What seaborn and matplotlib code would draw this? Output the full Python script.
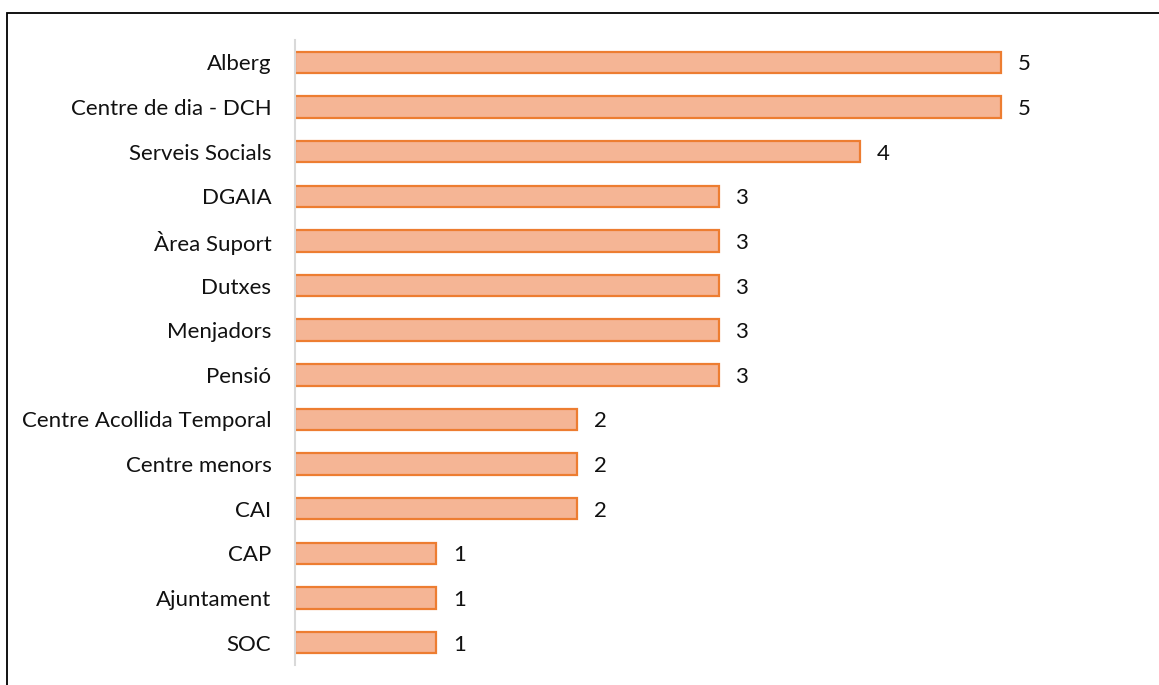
import matplotlib
matplotlib.use("Agg")
import matplotlib.pyplot as plt
import seaborn as sns
import pandas as pd
from matplotlib.patches import Rectangle

categories = ['Alberg', 'Centre de dia - DCH', 'Serveis Socials', 'DGAIA', 'Àrea Suport',
              'Dutxes', 'Menjadors', 'Pensió', 'Centre Acollida Temporal', 'Centre menors',
              'CAI', 'CAP', 'Ajuntament', 'SOC']
counts = [5, 5, 4, 3, 3, 3, 3, 3, 2, 2, 2, 1, 1, 1]

df = pd.DataFrame({'Servei': categories, 'N': counts})

sns.set_style('white')
plt.rcParams['font.family'] = ['Lato', 'DejaVu Sans']

fig = plt.figure(figsize=(11.59, 6.85), dpi=100)
ax = fig.add_axes([295 / 1159, 1 - 665 / 685, (1142 - 295) / 1159, 625 / 685])

sns.barplot(data=df, y='Servei', x='N', orient='h', color='#F5B595',
            edgecolor='#ED7D31', linewidth=1.6, width=0.48, saturation=1, ax=ax)

for i, v in enumerate(counts):
    ax.text(v + 0.12, i, str(v), va='center_baseline', ha='left', fontsize=16, color='#111111')

ax.set_xlim(0, 6)
ax.set_ylim(13.5, -0.5)
ax.set_xlabel('')
ax.set_ylabel('')
ax.set_xticks([])
ax.tick_params(axis='y', length=0, pad=17, labelsize=16, labelcolor='#111111')
for lbl in ax.get_yticklabels():
    lbl.set_verticalalignment('center_baseline')
for s in ['top', 'right', 'bottom']:
    ax.spines[s].set_visible(False)
ax.spines['left'].set_color('#D9D9D9')
ax.spines['left'].set_linewidth(1.5)

# outer border (right/bottom edges fall off the image)
fig.patches.append(Rectangle((7 / 1159, -0.1), 1.2, 1 - 13 / 685 + 0.1,
                             transform=fig.transFigure, fill=False,
                             edgecolor='black', linewidth=1.3))

fig.savefig('out.png', dpi=100)
